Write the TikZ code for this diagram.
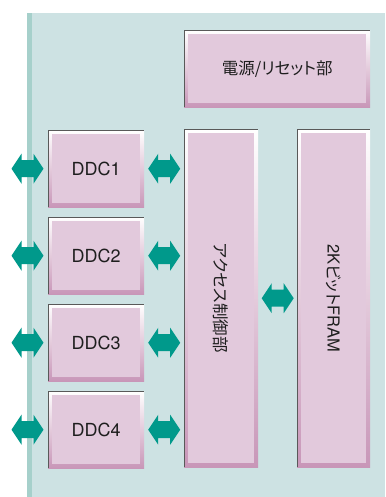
\documentclass[tikz,border=0pt]{standalone}
\usepackage{fontspec}
\newfontfamily\jpfont[RawFeature=+palt]{Noto Sans CJK JP}
\newfontfamily\hvfont{TeX Gyre Heros}
\usetikzlibrary{calc}
\definecolor{panelc}{HTML}{CDE2E3}
\definecolor{stripec}{HTML}{A6D0CB}
\definecolor{boxfill}{HTML}{E2C9DC}
\definecolor{bevdark}{HTML}{C896B8}
\definecolor{arrowc}{HTML}{00998B}
\definecolor{txtc}{HTML}{1E1E1E}
\tikzset{
  pbox/.style={rectangle, inner sep=0pt, anchor=north west,
    top color=white, bottom color=bevdark, draw=none,
    text=txtc, font=\jpfont\fontsize{16.5}{18}\selectfont,
    path picture={
      \fill[boxfill] ([shift={(4pt,-4pt)}]path picture bounding box.north west)
        rectangle ([shift={(-4pt,4pt)}]path picture bounding box.south east);
      \draw[black!65, line width=1.2pt] (path picture bounding box.south west)
        -- (path picture bounding box.north west) -- (path picture bounding box.north east);
    }},
  ddcbox/.style={pbox, minimum width=96pt, minimum height=77pt,
    font=\hvfont\fontsize{18}{20}\selectfont},
  vtext/.style={rotate=-90, text=txtc, font=\jpfont\fontsize{16.5}{18}\selectfont},
  darr/.pic={\fill[arrowc] (-16,0) -- (-6,-15) -- (-6,-8.5) -- (6,-8.5) -- (6,-15)
    -- (16,0) -- (6,15) -- (6,8.5) -- (-6,8.5) -- (-6,15) -- cycle;}
}
\begin{document}
\begin{tikzpicture}[x=1pt,y=-1pt]
\useasboundingbox (0,0) rectangle (385,497);
\fill[white] (0,0) rectangle (385,497);
% panel
\fill[panelc] (27,13) rectangle (385,497);
\fill[stripec] (27,13) rectangle (32,497);
% blocks
\node[pbox, minimum width=186pt, minimum height=77pt] (pwr) at (184,30) {電源/リセット部};
\node[ddcbox] (d1) at (48,130) {DDC1};
\node[ddcbox] (d2) at (48,217) {DDC2};
\node[ddcbox] (d3) at (48,304) {DDC3};
\node[ddcbox] (d4) at (48,391) {DDC4};
\node[pbox, minimum width=74pt, minimum height=338pt] (acc) at (184,129) {};
\node[pbox, minimum width=73pt, minimum height=338pt] (fram) at (297,129) {};
\node[vtext] (acct) at (acc.center) {アクセス制御部};
\node[vtext] (framt) at (fram.center) {{\hvfont 2K}ビット{\hvfont FRAM}};
% connectors
\foreach \d in {d1,d2,d3,d4}{
  \coordinate (ext\d) at ($(\d.west)+(-41,0)$);
  \pic at ($(ext\d)!0.5!(\d.west)$) {darr};
  \pic at ($(\d.east)!0.5!(acc.west |- \d.east)$) {darr};
}
\pic at ($(acc.east)!0.5!(fram.west)$) {darr};
\end{tikzpicture}
\end{document}
